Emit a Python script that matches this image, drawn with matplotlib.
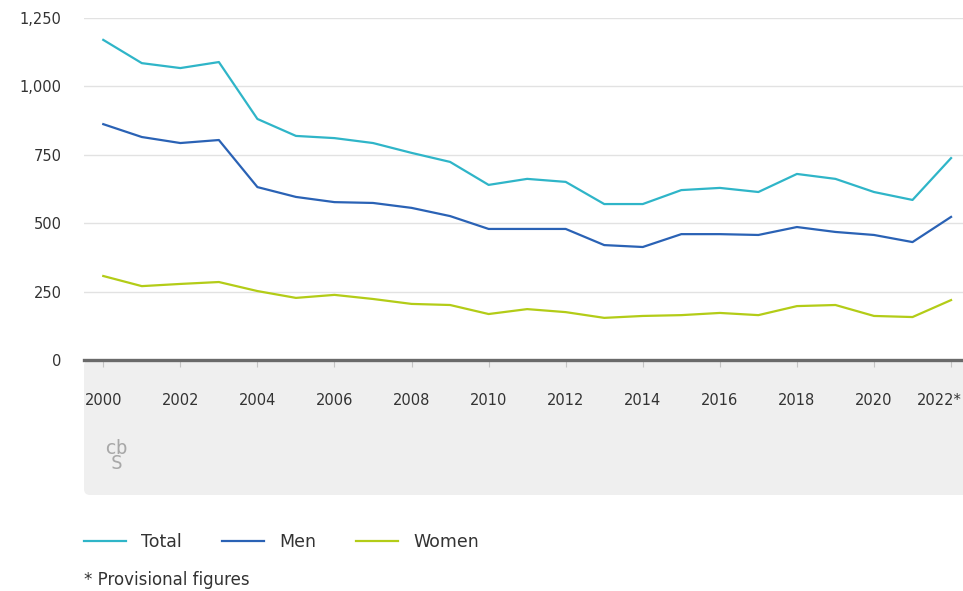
import matplotlib
matplotlib.use('Agg')
import matplotlib.pyplot as plt
from matplotlib.patches import FancyBboxPatch
from matplotlib.transforms import IdentityTransform, ScaledTranslation
from matplotlib.ticker import FuncFormatter

# data
years = list(range(2000, 2023))
total = [1170, 1085, 1067, 1089, 881, 819, 811, 793, 757, 724, 640, 662, 651,
         570, 570, 621, 629, 614, 680, 662, 614, 585, 738]
men = [862, 815, 793, 804, 632, 596, 577, 574, 556, 526, 479, 479, 479,
       420, 413, 460, 460, 457, 486, 468, 457, 431, 523]
women = [307, 270, 278, 285, 252, 227, 238, 223, 205, 201, 168, 186, 175,
         154, 161, 164, 172, 164, 197, 201, 161, 157, 219]
tick_years = list(range(2000, 2023, 2))
tick_labels = [str(y) for y in tick_years[:-1]] + ['2022*']
series_names = ['Total', 'Men', 'Women']
colors = ['#2fb5c8', '#2a62b5', '#b3cc17']

plt.rcParams['font.family'] = ['DejaVu Sans']
W, H, dpi = 963, 591, 100
fig = plt.figure(figsize=(W / dpi, H / dpi), dpi=dpi)
fig.patch.set_facecolor('white')

# grey panel under the x axis
panel = FancyBboxPatch((84, H - 495), 900, 135,
                       boxstyle='round,pad=0,rounding_size=6',
                       transform=IdentityTransform(), facecolor='#efefef',
                       edgecolor='none', zorder=0)
fig.add_artist(panel)

ax = fig.add_axes([84 / W, (H - 360) / H, (W - 84) / W, (360 - 18) / H])
ax.set_facecolor('none')

for vals, name, c in zip([total, men, women], series_names, colors):
    ax.plot(years, vals, color=c, lw=1.6, label=name, zorder=3)

ax.set_xlim(1999.5, 2022.31)
ax.set_ylim(0, 1250)
ax.set_yticks([0, 250, 500, 750, 1000, 1250])
ax.yaxis.set_major_formatter(FuncFormatter(lambda v, p: f'{int(v):,}'))
ax.grid(axis='y', color='#e2e2e2', lw=1)
ax.set_axisbelow(True)
for s in ['top', 'right', 'left']:
    ax.spines[s].set_visible(False)
ax.spines['bottom'].set_color('#6a6a6a')
ax.spines['bottom'].set_linewidth(2.4)
ax.spines['bottom'].set_zorder(4)

ax.set_xticks(tick_years)
ax.set_xticklabels(tick_labels)
ax.tick_params(axis='x', length=5, width=0.8, color='#c4c4c4', pad=19,
               labelsize=10.5, labelcolor='#333333')
ax.tick_params(axis='y', length=0, pad=16, labelsize=10.5, labelcolor='#333333')

# last year label sits against the right edge
last = ax.get_xticklabels()[-1]
last.set_ha('right')
last.set_transform(last.get_transform() + ScaledTranslation(0.11, 0, fig.dpi_scale_trans))

# cbs logo (rough)
fig.text(116 / W, (H - 456) / H, 'cb\nS', ha='center', va='center',
         fontsize=14, color='#a8a8a8', family='DejaVu Sans Mono',
         linespacing=0.75)

leg = fig.legend(loc='upper left', bbox_to_anchor=(84 / W, (H - 533) / H),
                 ncol=3, frameon=False, fontsize=12.5, handlelength=2.4,
                 handletextpad=0.9, columnspacing=2.3, borderpad=0,
                 borderaxespad=0)
for t in leg.get_texts():
    t.set_color('#333333')

fig.text(84 / W, (H - 580) / H, '* Provisional figures', ha='left',
         va='center', fontsize=12, color='#333333')

fig.savefig('out.png', dpi=dpi, facecolor='white')
